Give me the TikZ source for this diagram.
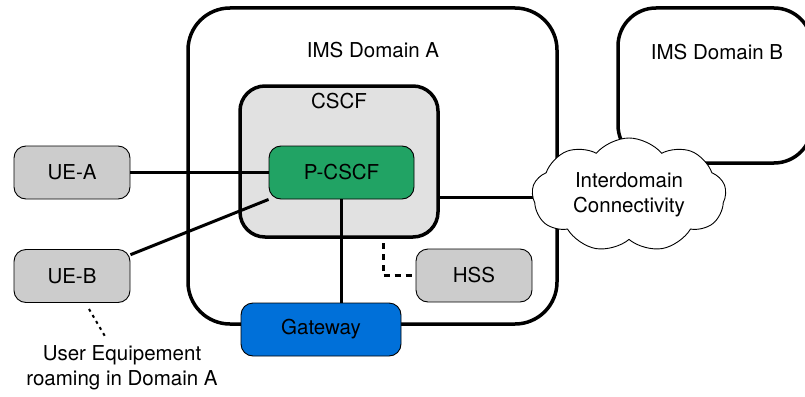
\documentclass[tikz,border=0pt]{standalone}
\usepackage{fontspec}
\setmainfont{TeX Gyre Heros}
\usetikzlibrary{shapes, positioning}

\definecolor{boxgray}{RGB}{204,204,204}
\definecolor{cscfgray}{RGB}{225,225,225}
\definecolor{pgreen}{RGB}{33,163,100}
\definecolor{gwblue}{RGB}{0,112,217}

\tikzset{
  dombox/.style={draw, line width=3.5pt, rounded corners=42pt, inner sep=0pt},
  elem/.style={draw, line width=0.9pt, rounded corners=12pt, inner sep=0pt, minimum height=53pt},
  wire/.style={line width=3pt},
}

\begin{document}
\begin{tikzpicture}[x=1pt, y=-1pt, every node/.style={font=\fontsize{20.5}{25}\selectfont}]
  \clip (0,0) rectangle (805,396);

  % domains %
  \node[dombox, minimum width=369pt, minimum height=316pt] (doma) at (372.5,166) {};
  \node (titlea) at (373,50) {IMS Domain A};
  \node[dombox, rounded corners=38pt, minimum width=194pt, minimum height=155pt] (domb) at (715,85.5) {};
  \node (titleb) at (717,52) {IMS Domain B};
  \node[dombox, fill=cscfgray, rounded corners=25pt, minimum width=198pt, minimum height=151pt] (cscf) at (339,161.5) {};
  \node[below=5pt of cscf.north] (cscftitle) {CSCF};

  % nodes %
  \node[elem, fill=pgreen, minimum width=145pt] (pcscf) at (341.5,172.5) {P-CSCF};
  \node[elem, fill=boxgray, minimum width=116pt] (uea) at (72,172.5) {UE-A};
  \node[elem, fill=boxgray, minimum width=116pt] (ueb) at (72,276) {UE-B};
  \node[elem, fill=boxgray, minimum width=116pt] (hss) at (474,275.5) {HSS};
  \node[elem, fill=gwblue, minimum width=160pt] (gw) at (321,329.5) {Gateway};
  \node[align=center] (note) at (122,367.5) {User Equipement\\roaming in Domain A};
  \coordinate (hssend) at (383,243);
  \coordinate (uedot) at (89,309);
  \coordinate (notetop) at (106,338);

  % edges %
  \draw[wire] (uea) -- (pcscf);
  \draw[wire] (ueb.20) -- (pcscf.south west);
  \draw[wire] (pcscf.south) -- (pcscf.south |- gw.north);
  \draw[wire, dash pattern=on 6pt off 5pt] (hssend) |- (hss.west);
  \draw[line width=2pt, dash pattern=on 3pt off 4pt] (uedot) -- (notetop);
  \draw[wire] (cscf.east |- 0,197) -- (560,197);

  % cloud %
  \node[cloud, cloud ignores aspect, draw, fill=white, line width=0.9pt, cloud puffs=9, cloud puff arc=100,
        minimum width=194pt, minimum height=114pt, inner sep=0pt, align=center] (cloud) at (629,195) {Interdomain\\Connectivity};
\end{tikzpicture}
\end{document}
